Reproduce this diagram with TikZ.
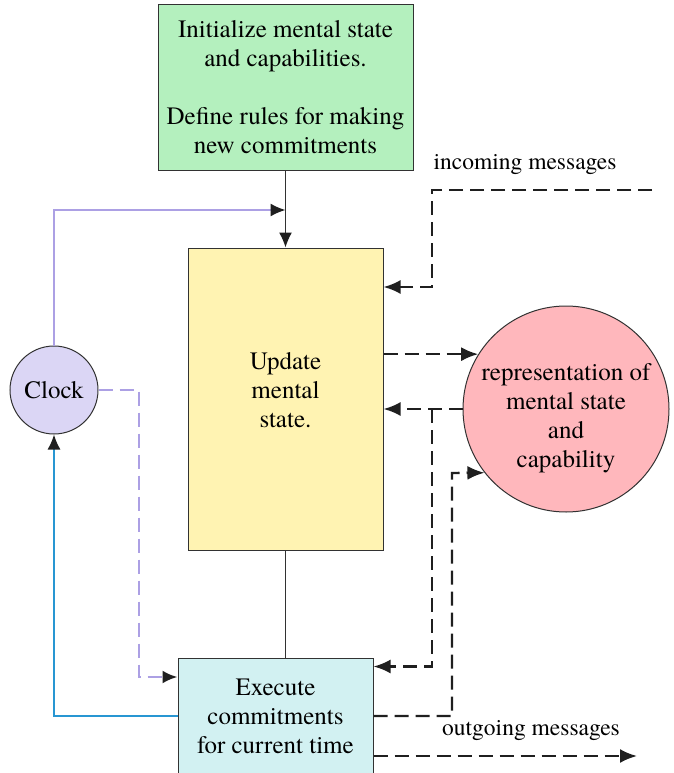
\documentclass[tikz,border=0pt]{standalone}
\usepackage{fontspec}
\IfFontExistsTF{texgyretermes-regular.otf}
	{\setmainfont{texgyretermes-regular.otf}}
	{\setmainfont{Latin Modern Roman}}
\usetikzlibrary{arrows.meta,positioning}
\definecolor{initgreen}{RGB}{180,240,190}
\definecolor{updyellow}{RGB}{255,243,178}
\definecolor{execcyan}{RGB}{210,241,242}
\definecolor{clocklav}{RGB}{219,214,245}
\definecolor{reppink}{RGB}{255,183,188}
\definecolor{lavline}{RGB}{172,160,228}
\definecolor{blueline}{RGB}{40,150,210}
\definecolor{boxline}{RGB}{50,50,50}
\tikzset{
	box/.style={draw=boxline,line width=1pt,inner sep=0pt,align=center,
		font=\fontsize{25}{29}\selectfont},
	flow/.style={draw=boxline,line width=1.3pt},
	msg/.style={draw=black!88,line width=2.4pt,dash pattern=on 14pt off 7pt,
		-{Latex[length=17pt,width=14pt]}},
	tip/.style={-{Latex[length=15pt,width=13pt,color=black!88]}},
	lbl/.style={font=\fontsize{23.5}{27}\selectfont}
}
\begin{document}
\begin{tikzpicture}[x=1pt,y=-1pt]
	\useasboundingbox (0,0) rectangle (673,773);
	% boxes
	\node[box,fill=initgreen,minimum width=255pt,minimum height=165pt] (init) at (285.5,87.5)
		{Initialize mental state\\and capabilities.\\[29pt]Define rules for making\\new commitments};
	\node[box,fill=updyellow,minimum width=195pt,minimum height=302pt] (update) at (285.5,399)
		{Update\\mental\\state.\\[-10pt]\mbox{}};
	\node[box,fill=execcyan,minimum width=195pt,minimum height=116pt] (exec) at (275.5,716)
		{Execute\\commitments\\for current time};
	\node[box,circle,fill=clocklav,minimum size=88pt] (clock) at (54,390) {Clock};
	\node[box,circle,fill=reppink,minimum size=206pt] (rep) at (566,409)
		{\raisebox{-9pt}[\height][\depth]{\begin{tabular}{@{}c@{}}representation of\\
			mental state\\and\\capability\end{tabular}}};
	% labels
	\node[lbl] (inlabel) at (525,165) {incoming messages};
	\node[lbl] (outlabel) at (531,731) {outgoing messages};
	% points
	\coordinate (tick) at (285.5,210);
	\coordinate (inA) at (652,190);
	\coordinate (inbend) at (432,287);
	\coordinate (split) at (432,409);
	\coordinate (execup) at (452,473);
	\coordinate (clkbend) at (139,677);
	\coordinate (outB) at (637,756);
	% solid connectors
	\draw[flow,tip] (init.south) -- (update.north);
	\draw[flow] (update.south) -- (update.south |- exec.north);
	\draw[lavline,line width=1.5pt,tip] (clock.north) |- (tick);
	\draw[blueline,line width=1.5pt,tip] (exec.west) -| (clock.south);
	\draw[lavline,line width=2.6pt,dash pattern=on 14pt off 7pt,tip] (clock.east) -| (clkbend) -- (exec.west |- clkbend);
	% messages
	\draw[msg] (inA) -| (inbend) -- (update.east |- inbend);
	\draw[msg] (update.east |- rep.148) -- (rep.148);
	\draw[msg] (rep.west) -- (update.east |- rep.west);
	\draw[msg] (split) |- ([yshift=-9pt]exec.north east);
	\draw[msg] (exec.east) -| (execup) -- (rep.218);
	\draw[msg] (exec.east |- outB) -- (outB);
\end{tikzpicture}
\end{document}
